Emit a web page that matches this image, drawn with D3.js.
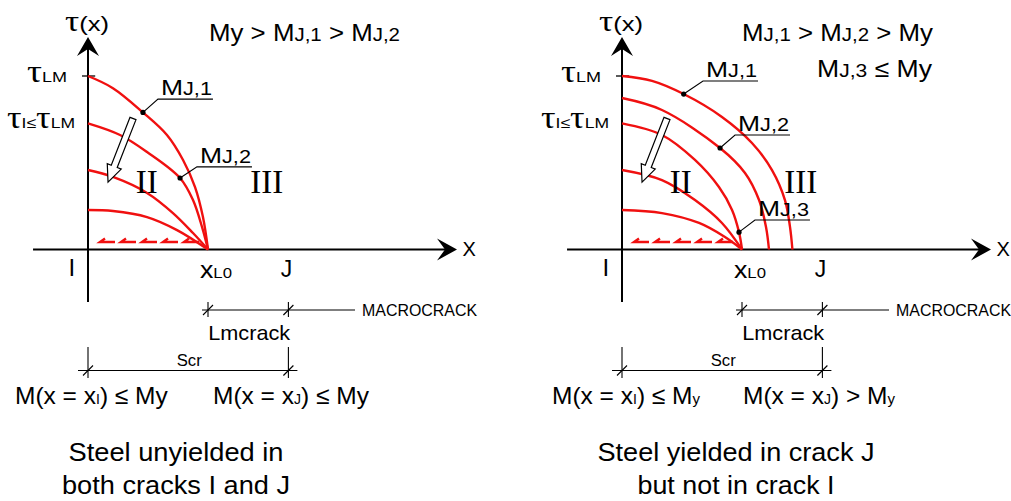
<!DOCTYPE html>
<html>
<head>
<meta charset="utf-8">
<script src="https://cdn.jsdelivr.net/npm/d3@7"></script>
<style>
  html, body { margin: 0; padding: 0; background: #fff; }
  svg { display: block; }
</style>
</head>
<body>
<svg id="chart" width="1011" height="501"></svg>
<script>
// Bond stress distributions tau(x) between crack I (x = 0) and the
// tip of the macrocrack x_L0 (x = 1), for two yielding scenarios.
// x is measured in units of the distance I -> x_L0, tau in units of tau_LM.

// Left diagram: steel unyielded in both cracks
const leftCurves = [
  [[0, 1.0], [0.208, 0.93], [0.458, 0.79], [0.658, 0.66], [0.792, 0.516], [0.892, 0.36], [0.958, 0.187], [1, 0]],
  [[0, 0.727], [0.267, 0.66], [0.492, 0.562], [0.767, 0.412], [0.875, 0.285], [0.95, 0.13], [1, 0]],
  [[0, 0.458], [0.208, 0.418], [0.492, 0.326], [0.708, 0.21], [0.875, 0.095], [1, 0]],
  [[0, 0.228], [0.208, 0.222], [0.492, 0.187], [0.742, 0.112], [1, 0]]
];
// Right diagram: steel yielded in crack J
const rightCurves = [
  [[0, 1.0], [0.25, 0.972], [0.514, 0.896], [0.833, 0.764], [1.083, 0.614], [1.25, 0.458], [1.358, 0.285], [1.40, 0.13], [1.42, 0]],
  [[0, 0.873], [0.333, 0.804], [0.817, 0.585], [1.025, 0.441], [1.142, 0.285], [1.2, 0.13], [1.225, 0]],
  [[0, 0.727], [0.333, 0.66], [0.608, 0.516], [0.808, 0.36], [0.917, 0.228], [0.975, 0.1], [1, 0]],
  [[0, 0.458], [0.333, 0.40], [0.608, 0.285], [0.833, 0.153], [1, 0]],
  [[0, 0.228], [0.333, 0.21], [0.642, 0.153], [0.858, 0.072], [1, 0]]
];

// Labelled curves: curve index, marker position [x, tau], leader corner, subscript
const leftMarkers = [
  { curve: 0, at: [0.458, 0.79], anchor: [0.583, 0.867], sub: "J,1" },
  { curve: 1, at: [0.767, 0.412], anchor: [0.908, 0.476], sub: "J,2" }
];
const rightMarkers = [
  { curve: 0, at: [0.514, 0.896], anchor: [0.675, 0.971], sub: "J,1" },
  { curve: 1, at: [0.817, 0.585], anchor: [0.942, 0.66], sub: "J,2" },
  { curve: 2, at: [0.975, 0.1], anchor: [1.108, 0.170], sub: "J,3" }
];

// Key abscissae and ordinates (same units)
const xL0 = 1.0;
const xJ = 1.67;
const tauLM = 1.0;
const tauI = 0.727;

const SANS = "'Liberation Sans', Arial, Helvetica, sans-serif";
const SERIF = "'Liberation Serif', 'Times New Roman', serif";
const RED = "#f01010";

const svg = d3.select("#chart");

// Text made of runs with different sizes/fonts on one baseline,
// optionally fitted to a given width
function rich(g, x, y, parts, anchor, width) {
  const t = g.append("text")
    .attr("x", x).attr("y", y)
    .attr("text-anchor", anchor || "start")
    .attr("fill", "#000");
  parts.forEach(p => {
    t.append("tspan")
      .attr("font-family", p[2] || SANS)
      .attr("font-size", p[1])
      .text(p[0]);
  });
  if (width) t.attr("textLength", width).attr("lengthAdjust", "spacingAndGlyphs");
  return t;
}

function drawPanel(cfg) {
  const g = svg.append("g");
  const x = d3.scaleLinear().domain([0, 1]).range([cfg.ox, cfg.ox + 120]);
  const y = d3.scaleLinear().domain([0, 1]).range([249.5, 76]);

  // axes
  g.append("line")
    .attr("x1", x(-0.458)).attr("x2", x(3.0))
    .attr("y1", y(0)).attr("y2", y(0))
    .attr("stroke", "#000").attr("stroke-width", 2);
  g.append("line")
    .attr("x1", x(0)).attr("x2", x(0))
    .attr("y1", y(-0.303)).attr("y2", y(1.16))
    .attr("stroke", "#000").attr("stroke-width", 2);
  // arrowheads
  const xt = x(3.075), yt = y(0);
  g.append("path")
    .attr("d", `M${xt},${yt} L${xt - 20},${yt - 11} L${xt - 12},${yt} L${xt - 20},${yt + 11} Z`)
    .attr("fill", "#000");
  const ax = x(0), ay = y(1.225);
  g.append("path")
    .attr("d", `M${ax},${ay} L${ax - 11},${ay + 19} L${ax},${ay + 12} L${ax + 11},${ay + 19} Z`)
    .attr("fill", "#000");
  // tau_LM tick
  g.append("line")
    .attr("x1", x(-0.05)).attr("x2", x(0.06))
    .attr("y1", y(tauLM)).attr("y2", y(tauLM))
    .attr("stroke", "#000").attr("stroke-width", 1.3);

  // bond stress curves
  const line = d3.line().x(d => x(d[0])).y(d => y(d[1])).curve(d3.curveCatmullRom.alpha(0.5));
  g.selectAll("path.curve").data(cfg.curves).enter().append("path")
    .attr("class", "curve")
    .attr("d", line)
    .attr("fill", "none").attr("stroke", RED).attr("stroke-width", 2.4);

  // dashed slip arrow along the bar
  const dashStarts = d3.range(5).map(i => 0.10 + i * 0.175);
  const dy = y(0.043);
  dashStarts.forEach(d0 => {
    const x0 = x(d0);
    g.append("path")
      .attr("d", `M${x0 + 15},${dy} L${x0},${dy} L${x0 + 5},${dy - 3.5}`)
      .attr("fill", "none").attr("stroke", RED).attr("stroke-width", 2.4)
      .attr("stroke-linejoin", "miter");
  });

  // hollow arrow: decreasing tau_I
  const S = [x(0.375), y(0.755)], E = [x(0.167), y(0.388)];
  const ux = E[0] - S[0], uy = E[1] - S[1], L = Math.hypot(ux, uy);
  const u = [ux / L, uy / L], n = [-u[1], u[0]];
  const hw = 3.2, hh = 7.5, hl = 17;
  const H = [E[0] - u[0] * hl, E[1] - u[1] * hl];
  const pts = [
    [S[0] + n[0] * hw, S[1] + n[1] * hw],
    [H[0] + n[0] * hw, H[1] + n[1] * hw],
    [H[0] + n[0] * hh, H[1] + n[1] * hh],
    E,
    [H[0] - n[0] * hh, H[1] - n[1] * hh],
    [H[0] - n[0] * hw, H[1] - n[1] * hw],
    [S[0] - n[0] * hw, S[1] - n[1] * hw]
  ];
  g.append("path")
    .attr("d", "M" + pts.map(p => p.join(",")).join("L") + "Z")
    .attr("fill", "#fff").attr("stroke", "#000").attr("stroke-width", 1.2);

  // labelled markers
  cfg.markers.forEach(m => {
    const mx = x(m.at[0]), my = y(m.at[1]);
    const lx = x(m.anchor[0]), ly = y(m.anchor[1]);
    g.append("path")
      .attr("d", `M${mx},${my} L${lx},${ly} L${lx + 55},${ly}`)
      .attr("fill", "none").attr("stroke", "#000").attr("stroke-width", 1.1);
    g.append("circle").attr("cx", mx).attr("cy", my).attr("r", 2.6).attr("fill", "#000");
    rich(g, lx + 3, ly - 4, [["M", 22], [m.sub, 18]], "start", 51);
  });

  // region numbers
  g.append("text").attr("x", x(0.49)).attr("y", 193).attr("text-anchor", "middle")
    .attr("font-family", SERIF).attr("font-size", 33).text("II");
  g.append("text").attr("x", x(1.49)).attr("y", 193).attr("text-anchor", "middle")
    .attr("font-family", SERIF).attr("font-size", 33).text("III");

  // axis labels
  rich(g, x(0) - 1, 31, [["τ", 29, SERIF], ["(x)", 21]], "middle", 44);
  rich(g, x(-0.175), y(tauLM) + 6, [["τ", 31, SERIF], ["LM", 15]], "end", 40);
  rich(g, x(-0.108), y(tauI) + 5, [["τ", 31, SERIF], ["I", 15], ["≤", 15], ["τ", 31, SERIF], ["LM", 15]], "end", 68);
  g.append("text").attr("x", x(3.12)).attr("y", y(0) + 6)
    .attr("font-family", SANS).attr("font-size", 20).text("X");

  g.append("text").attr("x", x(-0.135)).attr("y", 276).attr("text-anchor", "middle")
    .attr("font-family", SANS).attr("font-size", 24).text("I");
  g.append("text").attr("x", x(xJ) - 2).attr("y", 277).attr("text-anchor", "middle")
    .attr("font-family", SANS).attr("font-size", 23).text("J");
  rich(g, x(xL0) - 8, 278, [["x", 24], ["L0", 15]], "start", 32);

  // MACROCRACK dimension
  const yMac = 310;
  g.append("line").attr("x1", x(xL0) - 6).attr("x2", x(xL0) + 147)
    .attr("y1", yMac).attr("y2", yMac).attr("stroke", "#000").attr("stroke-width", 1.2);
  [xL0, xJ].forEach(v => {
    const px = x(v);
    g.append("line").attr("x1", px).attr("x2", px).attr("y1", yMac - 8).attr("y2", yMac + 7)
      .attr("stroke", "#000").attr("stroke-width", 1.1);
    g.append("line").attr("x1", px - 5).attr("x2", px + 5).attr("y1", yMac + 5).attr("y2", yMac - 5)
      .attr("stroke", "#000").attr("stroke-width", 1.1);
  });
  rich(g, x(xL0) + 154, yMac + 6, [["MACROCRACK", 16]], "start", 115);
  rich(g, x((xL0 + xJ) / 2) + 1, 340, [["Lmcrack", 21]], "middle", 82);

  // crack spacing dimension
  const yS = 370.5;
  g.append("line").attr("x1", x(0) - 10).attr("x2", x(xJ) + 9)
    .attr("y1", yS).attr("y2", yS).attr("stroke", "#000").attr("stroke-width", 1.2);
  [0, xJ].forEach(v => {
    const px = x(v);
    g.append("line").attr("x1", px).attr("x2", px).attr("y1", 347).attr("y2", 378)
      .attr("stroke", "#000").attr("stroke-width", 1.1);
    g.append("line").attr("x1", px - 5).attr("x2", px + 5).attr("y1", yS + 5).attr("y2", yS - 5)
      .attr("stroke", "#000").attr("stroke-width", 1.1);
  });
  rich(g, x(xJ / 2) + 1, 366, [["Scr", 16]], "middle", 25);

  // moment conditions and captions
  cfg.conds.forEach(c => rich(g, c.x, c.y, c.parts, "start", c.w));
  cfg.caption.forEach((c, i) => {
    rich(g, cfg.capX, 461 + i * 33, [[c.t, 26]], "middle", c.w);
  });
}

drawPanel({
  ox: 88,
  curves: leftCurves,
  markers: leftMarkers,
  conds: [
    { x: 209, y: 41, w: 191, parts: [["My > M", 24], ["J,1", 19], [" > M", 24], ["J,2", 19]] },
    { x: 15, y: 404, parts: [["M(x = x", 24.5], ["I", 14], [") ≤ My", 24.5]] },
    { x: 213, y: 404, parts: [["M(x = x", 24.5], ["J", 14], [") ≤ My", 24.5]] }
  ],
  caption: [{ t: "Steel unyielded in", w: 215 }, { t: "both cracks I and J", w: 228 }],
  capX: 176
});

drawPanel({
  ox: 622,
  curves: rightCurves,
  markers: rightMarkers,
  conds: [
    { x: 742, y: 41, w: 191, parts: [["M", 24], ["J,1", 19], [" > M", 24], ["J,2", 19], [" > My", 24]] },
    { x: 817, y: 77, w: 115, parts: [["M", 24], ["J,3", 19], [" ≤ My", 24]] },
    { x: 552, y: 404, parts: [["M(x = x", 24.5], ["I", 14], [") ≤ M", 24.5], ["y", 15]] },
    { x: 743, y: 404, parts: [["M(x = x", 24.5], ["J", 14], [") > M", 24.5], ["y", 15]] }
  ],
  caption: [{ t: "Steel yielded in crack J", w: 277 }, { t: "but not in crack I", w: 197 }],
  capX: 736
});
</script>
</body>
</html>
